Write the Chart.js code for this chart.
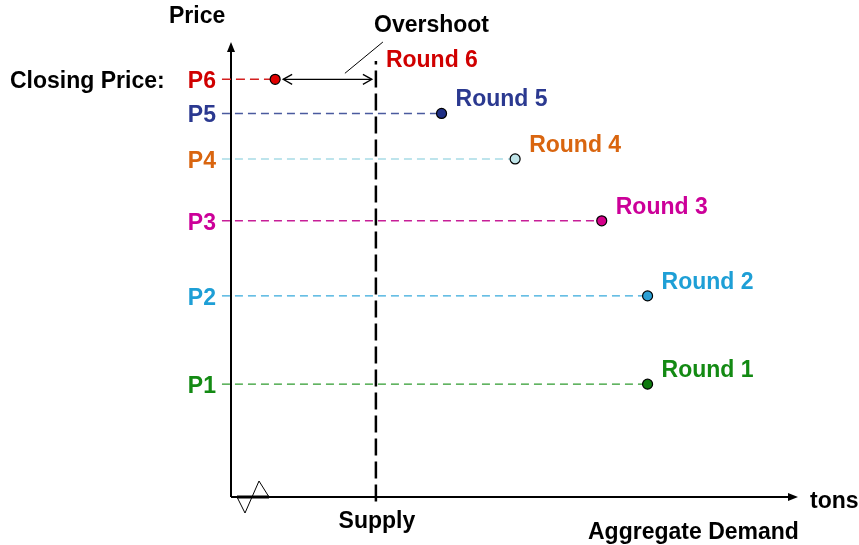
<!DOCTYPE html>
<html>
<head>
<meta charset="utf-8">
<script src="https://cdn.jsdelivr.net/npm/chart.js@4"></script>
<style>
  body { margin: 0; background: #fff; }
  #wrap { width: 859px; height: 545px; }
</style>
</head>
<body>
<div id="wrap"><canvas id="chart" width="859" height="545"></canvas></div>
<script>
// rounds of the auction, bottom to top
var rounds = ["Round 1", "Round 2", "Round 3", "Round 4", "Round 5", "Round 6"];
var priceLabels = ["P1", "P2", "P3", "P4", "P5", "P6"];
var prices = [24.8, 44.2, 60.7, 74.3, 84.3, 91.8];     // closing price of each round
var demand = [73.6, 73.6, 65.5, 50.2, 37.2, 7.8];      // aggregate demand at that price
var supply = 25.6;
var supplyTop = 95.8;
var guideStart = -1.6;

var textColors  = ["#138A13", "#1E9FD6", "#CC0099", "#D9650F", "#2B3990", "#D00000"];
var lineColors  = ["#2E9B2E", "#36A9DC", "#C71F97", "#A8DCE6", "#4A5A9E", "#D42020"];
var pointColors = ["#0E7A0E", "#2A9FD4", "#D4008A", "#BFE4E8", "#1F2F85", "#E00000"];

var FONT = 'bold 23px "Liberation Sans", Arial, sans-serif';

var datasets = rounds.map(function (r, i) {
    return {
        label: r,
        data: [{x: guideStart, y: prices[i]}, {x: demand[i], y: prices[i]}],
        showLine: true,
        borderColor: lineColors[i],
        borderWidth: i == 5 ? 1.6 : 1.4,
        borderDash: i == 5 ? [9, 5] : [8, 5],
        pointRadius: function (c) { return c.dataIndex == 1 ? 5 : 0; },
        pointBackgroundColor: pointColors[i],
        pointBorderColor: "#000",
        pointBorderWidth: 1.2,
        clip: false
    };
});
datasets.unshift({
    label: "Supply",
    data: [{x: supply, y: -1}, {x: supply, y: supplyTop}],
    showLine: true,
    borderColor: "#000",
    borderWidth: 2.5,
    borderDash: [17, 6],
    pointRadius: 0,
    clip: false
});

function arrowHead(ctx, x, y, dx, dy, len, half, filled) {
    var px = -dy, py = dx;
    ctx.beginPath();
    ctx.moveTo(x - dx * len + px * half, y - dy * len + py * half);
    ctx.lineTo(x, y);
    ctx.lineTo(x - dx * len - px * half, y - dy * len - py * half);
    if (filled) { ctx.closePath(); ctx.fill(); } else { ctx.stroke(); }
}

var diagram = {
    id: "diagram",
    beforeDatasetsDraw: function (chart) {
        var ctx = chart.ctx, a = chart.chartArea;
        ctx.save();
        ctx.strokeStyle = "#000";
        ctx.fillStyle = "#000";
        ctx.lineWidth = 2;
        ctx.beginPath();
        ctx.moveTo(a.left, a.bottom);
        ctx.lineTo(a.left, a.top + 5);
        ctx.moveTo(a.left, a.bottom);
        ctx.lineTo(a.right - 5, a.bottom);
        ctx.stroke();
        arrowHead(ctx, a.left, a.top, 0, -1, 10, 4, true);
        arrowHead(ctx, a.right + 1, a.bottom, 1, 0, 10, 4, true);
        ctx.restore();
    },
    afterDatasetsDraw: function (chart) {
        var ctx = chart.ctx, a = chart.chartArea;
        var xs = chart.scales.x, ys = chart.scales.y;
        var sx = xs.getPixelForValue(supply);
        ctx.save();
        ctx.font = FONT;
        ctx.textBaseline = "alphabetic";

        // price labels and round labels
        for (var i = 0; i < rounds.length; i++) {
            var py = ys.getPixelForValue(prices[i]);
            var px = xs.getPixelForValue(demand[i]);
            ctx.fillStyle = textColors[i];
            ctx.textAlign = "right";
            ctx.fillText(priceLabels[i], a.left - 15, py + 9);
            ctx.textAlign = "left";
            if (i == 5) ctx.fillText(rounds[i], sx + 10, 67);
            else ctx.fillText(rounds[i], px + 14, py - 7);
        }

        ctx.fillStyle = "#000";
        ctx.textAlign = "left";
        ctx.fillText("Closing Price:", 10, ys.getPixelForValue(prices[5]) + 9);
        ctx.fillText("Price", 169, 23);
        ctx.fillText("Overshoot", 374, 32);
        ctx.fillText("tons", 810, 508);
        ctx.fillText("Aggregate Demand", 588, 539);
        ctx.textAlign = "center";
        ctx.fillText("Supply", sx + 1, 528);

        // overshoot double arrow
        var y6 = ys.getPixelForValue(prices[5]);
        var x6 = xs.getPixelForValue(demand[5]);
        ctx.strokeStyle = "#000";
        ctx.lineWidth = 1.3;
        ctx.beginPath();
        ctx.moveTo(x6 + 8, y6);
        ctx.lineTo(sx - 4, y6);
        ctx.stroke();
        arrowHead(ctx, x6 + 8, y6, -1, 0, 9, 5, false);
        arrowHead(ctx, sx - 4, y6, 1, 0, 9, 5, false);

        // leader line to "Overshoot"
        ctx.lineWidth = 1;
        ctx.beginPath();
        ctx.moveTo(sx - 31, y6 - 6);
        ctx.lineTo(sx + 7, 42);
        ctx.stroke();

        // axis break symbol
        var bx = a.left, by = a.bottom;
        ctx.lineWidth = 3;
        ctx.beginPath();
        ctx.moveTo(bx + 6, by);
        ctx.lineTo(bx + 38, by);
        ctx.stroke();
        ctx.lineWidth = 1;
        ctx.beginPath();
        ctx.moveTo(bx + 6, by);
        ctx.lineTo(bx + 14, by + 16);
        ctx.lineTo(bx + 21, by);
        ctx.lineTo(bx + 28, by - 16);
        ctx.lineTo(bx + 38, by);
        ctx.stroke();
        ctx.restore();
    }
};

var canvas = document.getElementById("chart");
var chart = new Chart(canvas, {
    type: "scatter",
    data: { datasets: datasets },
    options: {
        responsive: false,
        devicePixelRatio: 1,
        animation: false,
        layout: { padding: { left: 231, right: 62, top: 42, bottom: 48 } },
        plugins: { legend: { display: false }, tooltip: { enabled: false } },
        scales: {
            x: { type: "linear", min: 0, max: 100, display: false },
            y: { type: "linear", min: 0, max: 100, display: false }
        }
    },
    plugins: [diagram]
});
</script>
</body>
</html>
